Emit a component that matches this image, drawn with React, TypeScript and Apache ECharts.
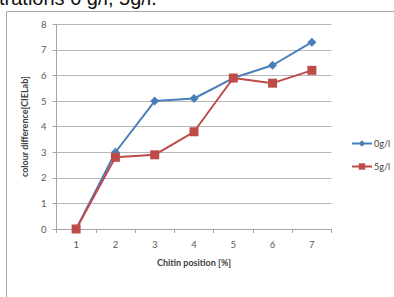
import React, { useEffect, useRef } from "react";
import * as echarts from "echarts";

const categories = ["1", "2", "3", "4", "5", "6", "7"];
const series0 = [0, 3.0, 5.0, 5.1, 5.9, 6.4, 7.3];
const series5 = [0, 2.8, 2.9, 3.8, 5.9, 5.7, 6.2];
const seriesNames = ["0g/l", "5g/l"];
const yTicks = { min: 0, max: 8, interval: 1 };

export default function App() {
  const ref = useRef<HTMLDivElement>(null);
  useEffect(() => {
    const chart = echarts.init(ref.current!, undefined, { renderer: "svg" });
    const font = "Lato, 'Open Sans', sans-serif";
    chart.setOption({
      animation: false,
      backgroundColor: "#ffffff",
      graphic: [
        {
          type: "text",
          left: -1,
          top: -12,
          style: {
            text: "trations 0 g/l, 5g/l.",
            font: "20px 'Liberation Sans', Arial, sans-serif",
            fill: "#111111",
          },
          z: 10,
        },
        {
          type: "polyline",
          shape: { points: [[6.5, 300], [6.5, 11.5], [400, 11.5]] },
          style: { stroke: "#a6a6a6", lineWidth: 1, fill: "none" },
          z: 10,
        },
      ],
      grid: { left: 56.5, right: 62.5, top: 24.3, bottom: 68 },
      legend: {
        orient: "vertical",
        left: 346,
        top: 134,
        itemGap: 14,
        itemWidth: 20,
        itemHeight: 8,
        textStyle: { fontSize: 9, color: "#404040", fontFamily: font, padding: [0, 0, 0, -3] },
        data: seriesNames,
      },
      xAxis: {
        type: "category",
        data: categories,
        boundaryGap: true,
        name: "Chitin position [%]",
        nameLocation: "middle",
        nameGap: 29,
        nameTextStyle: { fontSize: 9, fontWeight: "bold", color: "#404040", fontFamily: font },
        axisLine: { lineStyle: { color: "#a6a6a6" } },
        axisTick: { show: true, length: 4, lineStyle: { color: "#a6a6a6" } },
        axisLabel: { fontSize: 9.5, color: "#595959", margin: 10, fontFamily: font },
      },
      yAxis: {
        type: "value",
        min: yTicks.min,
        max: yTicks.max,
        interval: yTicks.interval,
        name: "colour difference[CIELab]",
        nameLocation: "middle",
        nameGap: 28,
        nameTextStyle: { fontSize: 9, fontWeight: "bold", color: "#404040", fontFamily: font },
        axisLine: { show: true, lineStyle: { color: "#a6a6a6" } },
        axisTick: { show: true, length: 4, lineStyle: { color: "#a6a6a6" } },
        axisLabel: { fontSize: 9.5, color: "#595959", margin: 10, fontFamily: font },
        splitLine: { lineStyle: { color: "#b8b8b8", width: 1 } },
      },
      series: [
        {
          name: seriesNames[0],
          type: "line",
          data: series0,
          symbol: "diamond",
          symbolSize: 9,
          itemStyle: { color: "#4a7ebb" },
          lineStyle: { color: "#4a7ebb", width: 2 },
          z: 3,
        },
        {
          name: seriesNames[1],
          type: "line",
          data: series5,
          symbol: "rect",
          symbolSize: 9,
          itemStyle: { color: "#be4b48" },
          lineStyle: { color: "#be4b48", width: 2 },
          z: 4,
        },
      ],
    });
    return () => chart.dispose();
  }, []);
  return (
    <div
      ref={ref}
      style={{ position: "fixed", left: 0, top: 0, width: 394, height: 297 }}
    />
  );
}
